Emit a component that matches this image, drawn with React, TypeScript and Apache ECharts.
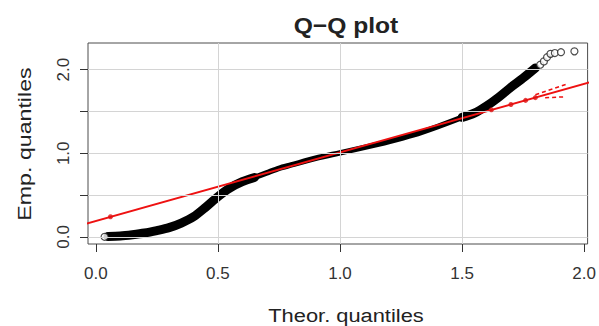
import React, { useEffect, useRef } from "react";
import * as echarts from "echarts";

// Axis ticks
const xTicks = [0, 0.5, 1, 1.5, 2];
const yTicks = [0, 0.5, 1, 1.5, 2];
const yTickLabels = [0, 1, 2];
const xGrid = [0.5, 1, 1.5];
const yGrid = [0, 0.5, 1, 1.5, 2];

const lowX = [0.05, 0.1, 0.15, 0.2, 0.25, 0.3, 0.35, 0.4, 0.45, 0.5, 0.55, 0.6, 0.65];
const lowY = [0.005, 0.01, 0.025, 0.045, 0.075, 0.11, 0.165, 0.24, 0.355, 0.48, 0.585, 0.66, 0.71];
const midX = [0.65, 0.7, 0.75, 0.8, 0.9, 1.0, 1.1, 1.2, 1.3, 1.4, 1.5];
const midY = [0.71, 0.765, 0.82, 0.86, 0.94, 1.005, 1.07, 1.14, 1.22, 1.32, 1.43];
const upX = [1.5, 1.55, 1.6, 1.65, 1.7, 1.75, 1.8];
const upY = [1.43, 1.48, 1.565, 1.67, 1.79, 1.9, 2.02];

// Sparse individual points (open circles)
const ptX = [0.036, 1.82, 1.835, 1.848, 1.862, 1.88, 1.905, 1.96];
const ptY = [0.0, 2.06, 2.1, 2.15, 2.19, 2.2, 2.21, 2.22];

// Reference line (endpoints) and markers
const refX = [-0.05, 2.05];
const refY = [0.149, 1.871];
const dotX = [0.06, 1.62, 1.7, 1.76, 1.8];
const dotY = [0.24, 1.52, 1.584, 1.633, 1.666];
const bandUpX = [1.8, 1.93];
const bandUpY = [1.7, 1.83];
const bandLoX = [1.84, 1.92];
const bandLoY = [1.665, 1.675];

const zip = (a: number[], b: number[]) => a.map((v, i) => [v, b[i]]);

const FONT = "'Liberation Sans', Arial, sans-serif";

export default function App() {
  const ref = useRef<HTMLDivElement>(null);
  useEffect(() => {
    const chart = echarts.init(ref.current!, null, { renderer: "svg" });
    chart.setOption({
      animation: false,
      backgroundColor: "#ffffff",
      grid: {
        left: 88,
        right: 2,
        top: 43,
        bottom: 82,
        show: true,
        borderColor: "#4d4d4d",
        borderWidth: 1,
        backgroundColor: "#ffffff",
      },
      xAxis: {
        type: "value",
        min: -0.032,
        max: 2.014,
        axisLine: { show: false, onZero: false },
        splitLine: { show: false },
        axisTick: {
          show: true,
          length: 8,
          customValues: xTicks,
          lineStyle: { color: "#333", width: 1 },
        },
        axisLabel: {
          customValues: xTicks,
          formatter: (v: number) => v.toFixed(1),
          fontSize: 17,
          fontFamily: FONT,
          color: "#333",
          margin: 21,
        },
      },
      yAxis: {
        type: "value",
        min: -0.086,
        max: 2.32,
        axisLine: { show: false, onZero: false },
        splitLine: { show: false },
        axisTick: {
          show: true,
          length: 8,
          customValues: yTicks,
          lineStyle: { color: "#333", width: 1 },
        },
        axisLabel: {
          customValues: yTickLabels,
          formatter: (v: number) => v.toFixed(1),
          fontSize: 17,
          fontFamily: FONT,
          color: "#333",
          rotate: 90,
          align: "center",
          verticalAlign: "bottom",
          margin: 16,
        },
      },
      graphic: [
        {
          type: "text",
          x: 346,
          y: 25,
          scaleX: 1.12,
          style: {
            text: "Q\u2212Q plot",
            fontSize: 22,
            fontWeight: "bold",
            fontFamily: FONT,
            fill: "#222",
            align: "center",
            verticalAlign: "middle",
          },
        },
        {
          type: "text",
          x: 346,
          y: 315,
          scaleX: 1.15,
          style: {
            text: "Theor. quantiles",
            fontSize: 19,
            fontFamily: FONT,
            fill: "#222",
            align: "center",
            verticalAlign: "middle",
          },
        },
        {
          type: "text",
          x: 24,
          y: 144,
          rotation: Math.PI / 2,
          scaleX: 1.22,
          style: {
            text: "Emp. quantiles",
            fontSize: 19,
            fontFamily: FONT,
            fill: "#222",
            align: "center",
            verticalAlign: "middle",
          },
        },
      ],
      series: [
        {
          type: "line",
          data: [],
          z: 1,
          silent: true,
          markLine: {
            silent: true,
            symbol: "none",
            label: { show: false },
            lineStyle: { color: "#d4d4d4", width: 1, type: "solid" },
            data: [
              ...xGrid.map((v) => ({ xAxis: v })),
              ...yGrid.map((v) => ({ yAxis: v })),
            ],
          },
        },
        {
          type: "line",
          data: zip(lowX, lowY),
          showSymbol: false,
          smooth: 0.3,
          z: 2,
          lineStyle: { color: "#000", width: 9, cap: "round", join: "round" },
        },
        {
          type: "line",
          data: zip(midX, midY),
          showSymbol: false,
          smooth: 0.3,
          z: 2,
          lineStyle: { color: "#000", width: 5.5, cap: "round", join: "round" },
        },
        {
          type: "line",
          data: zip(upX, upY),
          showSymbol: false,
          smooth: 0.3,
          z: 2,
          lineStyle: { color: "#000", width: 9, cap: "round", join: "round" },
        },
        {
          type: "scatter",
          data: zip(ptX, ptY),
          symbol: "circle",
          symbolSize: 7,
          z: 3,
          itemStyle: { color: "#ffffff", borderColor: "#222", borderWidth: 1.2 },
        },
        {
          type: "line",
          data: zip(refX, refY),
          showSymbol: false,
          z: 4,
          lineStyle: { color: "#ee1111", width: 2 },
        },
        {
          type: "line",
          data: zip(bandUpX, bandUpY),
          showSymbol: false,
          z: 4,
          lineStyle: { color: "#ee1111", width: 1.5, type: [4, 3] },
        },
        {
          type: "line",
          data: zip(bandLoX, bandLoY),
          showSymbol: false,
          z: 4,
          lineStyle: { color: "#ee1111", width: 1.5, type: [4, 3] },
        },
        {
          type: "scatter",
          data: zip(dotX, dotY),
          symbol: "circle",
          symbolSize: 5,
          z: 5,
          itemStyle: { color: "#dd1111" },
        },
      ],
    });
    return () => chart.dispose();
  }, []);
  return (
    <div
      ref={ref}
      style={{ position: "fixed", left: 0, top: 0, width: 599, height: 326 }}
    />
  );
}
